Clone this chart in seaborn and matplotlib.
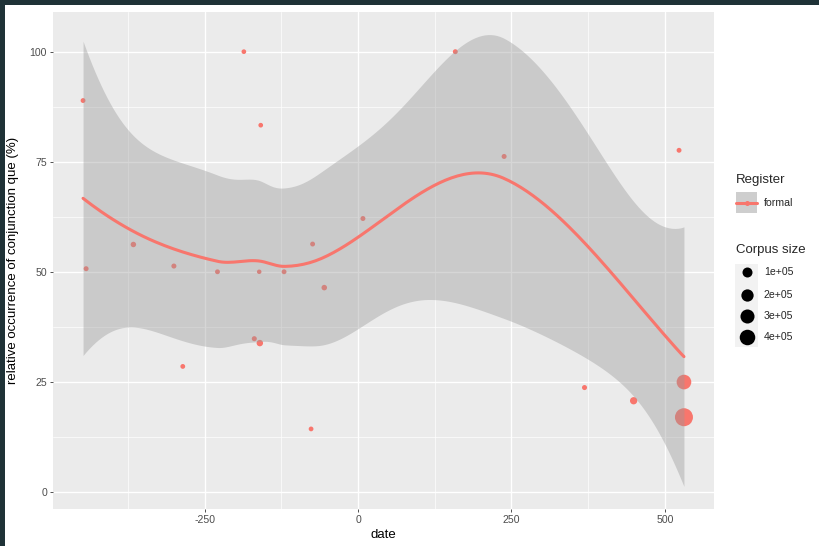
import numpy as np
import pandas as pd
import matplotlib
matplotlib.use("Agg")
import matplotlib.pyplot as plt
from matplotlib.patches import Rectangle
from matplotlib.lines import Line2D
import seaborn as sns

# ---- data -----------------------------------------------------------------
dates = [-448, -443, -366, -300, -285.5, -229, -186, -169, -160, -158.5, -161,
         -120.5, -74, -76.5, -55, 8, 158.5, 238, 369, 449, 523, 531, 531]
que_pct = [88.9, 50.7, 56.2, 51.3, 28.5, 50.0, 100.0, 34.8, 33.8, 83.3, 50.0,
           50.0, 56.3, 14.3, 46.4, 62.1, 100.0, 76.2, 23.7, 20.7, 77.6, 24.95, 16.96]
corpus = [900, 1200, 3500, 1500, 800, 900, 600, 1500, 13000, 600, 500,
          900, 1000, 700, 4000, 1200, 1100, 1300, 1500, 26000, 1000, 340000, 600000]
register = ["formal"] * len(dates)

size_breaks = [100000, 200000, 300000, 400000]
size_labels = ["1e+05", "2e+05", "3e+05", "4e+05"]
x_breaks = [-250, 0, 250, 500]
y_breaks = [0, 25, 50, 75, 100]

df = pd.DataFrame({"date": dates, "que": que_pct, "corpus": corpus,
                   "register": register})

RED = "#F8766D"
PANEL = "#EBEBEB"
W, H = 819, 546


# ---- size scale: diameter grows with sqrt of corpus size --------------------
cmin, cmax = min(corpus), max(corpus)


def diam_px(c):
    r = (c - cmin) / (cmax - cmin)
    return 4.5 + 13.5 * np.sqrt(max(r, 0.0))


def marker_area(c):
    return (diam_px(c) * 0.72) ** 2


# ---- loess: local quadratic fits at kd-tree vertices, cubic interpolation ---
def local_rows(x, x0, span=0.75, degree=2):
    """Operator rows giving the local value and slope at x0."""
    q = int(np.floor(len(x) * span))
    d = np.abs(x - x0)
    h = np.sort(d)[q - 1]
    u = d / h
    w = np.where(u < 0.999, np.where(u > 0.001, (1 - u ** 3) ** 3, 1.0), 0.0)
    X = np.vander(x - x0, degree + 1, increasing=True)
    XtW = X.T * w
    B = np.linalg.solve(XtW @ X, XtW)
    return B[0], B[1]


def kd_vertices(x, span=0.75, cell=0.2):
    xs = np.sort(x)
    n = len(xs)
    fc = int(np.floor(n * span * cell))
    mu = 0.005 * (xs[-1] - xs[0])
    verts = [xs[0] - mu, xs[-1] + mu]

    def split(lo, hi):  # 1-based inclusive indices
        if hi - lo + 1 <= fc:
            return
        m = (lo + hi) // 2
        while m < hi and xs[m - 1] == xs[m]:
            m += 1
        verts.append(xs[m - 1])
        split(lo, m)
        split(m + 1, hi)

    split(1, n)
    return np.array(sorted(set(verts)))


def loess_operator(x, x_eval, span=0.75):
    verts = kd_vertices(x, span)
    V0, V1 = zip(*[local_rows(x, v, span) for v in verts])
    V0, V1 = np.array(V0), np.array(V1)
    rows = []
    for xe in x_eval:
        k = int(np.clip(np.searchsorted(verts, xe) - 1, 0, len(verts) - 2))
        a, b = verts[k], verts[k + 1]
        L = b - a
        t = (xe - a) / L
        h00 = (1 - t) ** 2 * (1 + 2 * t)
        h01 = t ** 2 * (3 - 2 * t)
        h10 = t * (1 - t) ** 2
        h11 = -t ** 2 * (1 - t)
        rows.append(h00 * V0[k] + h01 * V0[k + 1]
                    + L * (h10 * V1[k] + h11 * V1[k + 1]))
    return np.array(rows)


def t_quantile(df_, z=1.959964):
    g1 = (z ** 3 + z) / 4
    g2 = (5 * z ** 5 + 16 * z ** 3 + 3 * z) / 96
    g3 = (3 * z ** 7 + 19 * z ** 5 + 17 * z ** 3 - 15 * z) / 384
    return z + g1 / df_ + g2 / df_ ** 2 + g3 / df_ ** 3


xd = np.asarray(dates, float)
yd = np.asarray(que_pct, float)
Lh = loess_operator(xd, xd)
IL = np.eye(len(xd)) - Lh
M = IL.T @ IL
one_delta = np.trace(M)
two_delta = np.trace(M @ M)
resid = yd - Lh @ yd
sigma = np.sqrt(np.sum(resid ** 2) / one_delta)
tq = t_quantile(one_delta ** 2 / two_delta)

xgrid = np.linspace(xd.min(), xd.max(), 200)
Lg = loess_operator(xd, xgrid)
fit = Lg @ yd
se = sigma * np.sqrt(np.sum(Lg ** 2, axis=1))
lo, hi = fit - tq * se, fit + tq * se
smooth = pd.DataFrame({"date": xgrid, "fit": fit, "lo": lo, "hi": hi})

# ---- figure ----------------------------------------------------------------
sns.set_style("darkgrid", {"axes.facecolor": PANEL, "grid.color": "white"})
plt.rcParams["font.family"] = ["Liberation Sans", "DejaVu Sans"]

fig = plt.figure(figsize=(W / 100, H / 100), dpi=100)
fig.patch.set_facecolor("white")
ax = fig.add_axes([53 / W, 1 - 509 / H, (714 - 53) / W, (509 - 12) / H])
ax.set_facecolor(PANEL)

sns.scatterplot(data=df, x="date", y="que", size="corpus",
                sizes={c: marker_area(c) for c in set(corpus)},
                color=RED, linewidth=0, legend=False, ax=ax, zorder=2)
ax.fill_between(smooth["date"], smooth["lo"], smooth["hi"],
                color="#999999", alpha=0.4, linewidth=0, zorder=3)
sns.lineplot(data=smooth, x="date", y="fit", color=RED, linewidth=2.2,
             ax=ax, zorder=4)

# limits with 5% expansion over everything drawn
xr = xd.max() - xd.min()
ax.set_xlim(xd.min() - 0.05 * xr, xd.max() + 0.05 * xr)
ymin_all = min(yd.min(), lo.min())
ymax_all = max(yd.max(), hi.max())
yr = ymax_all - ymin_all
ax.set_ylim(ymin_all - 0.05 * yr, ymax_all + 0.05 * yr)

ax.set_xticks(x_breaks)
ax.set_xticklabels([str(v) for v in x_breaks])
ax.set_yticks(y_breaks)
ax.set_yticklabels([str(v) for v in y_breaks])
ax.set_xticks([-375, -125, 125, 375], minor=True)
ax.set_yticks([12.5, 37.5, 62.5, 87.5], minor=True)
ax.grid(which="major", color="white", linewidth=1.0)
ax.grid(which="minor", color="white", linewidth=0.5)
ax.set_axisbelow(True)
ax.tick_params(which="major", length=2.4, width=0.6, color="#333333",
               labelcolor="#4D4D4D", labelsize=7.6, pad=1.9,
               bottom=True, left=True)
ax.tick_params(which="minor", length=0, bottom=False, left=False)
for s in ax.spines.values():
    s.set_visible(False)
ax.set_xlabel("")
ax.set_ylabel("")


def fx(px):
    return px / W


def fy(py):
    return 1 - py / H


fig.text(fx(383.5), fy(535), "date", ha="center", va="center", fontsize=9.5,
         color="black")
fig.text(fx(13), fy(260.5), "relative occurrence of conjunction que (%)",
         ha="center", va="center", rotation=90, fontsize=9.5, color="black")

# ---- legends ---------------------------------------------------------------
fig.text(fx(736), fy(180), "Register", ha="left", va="center", fontsize=9.5)
fig.patches.append(Rectangle((fx(736), fy(213)), fx(21), 21 / H,
                             transform=fig.transFigure, facecolor="#F2F2F2",
                             edgecolor="none"))
fig.patches.append(Rectangle((fx(736), fy(213)), fx(21), 21 / H,
                             transform=fig.transFigure, facecolor="#999999",
                             alpha=0.4, edgecolor="none"))
fig.lines.append(Line2D([fx(736), fx(757)], [fy(202.5), fy(202.5)],
                        transform=fig.transFigure, color=RED, linewidth=2.2))
fig.lines.append(Line2D([fx(746.5)], [fy(202.5)], transform=fig.transFigure,
                        marker="o", markersize=3.6, color=RED,
                        markeredgewidth=0))
fig.text(fx(764), fy(203), register[0], ha="left", va="center", fontsize=7.6)

fig.text(fx(736), fy(250), "Corpus size", ha="left", va="center", fontsize=9.5)
fig.patches.append(Rectangle((fx(735), fy(347)), fx(23), (347 - 264) / H,
                             transform=fig.transFigure, facecolor="#F2F2F2",
                             edgecolor="none"))
key_y = [272.3, 294.5, 316, 336.7]
for b, lab, ky in zip(size_breaks, size_labels, key_y):
    fig.lines.append(Line2D([fx(746.5)], [fy(ky)], transform=fig.transFigure,
                            marker="o", markersize=diam_px(b) * 0.72,
                            color="black", markeredgewidth=0))
    fig.text(fx(764), fy(ky), lab, ha="left", va="center", fontsize=7.6)

# dark window edge along the top and left
fig.patches.append(Rectangle((0, fy(5)), 1, 5 / H, transform=fig.transFigure,
                             facecolor="#1F3237", edgecolor="none", zorder=10))
fig.patches.append(Rectangle((0, 0), fx(5), 1, transform=fig.transFigure,
                             facecolor="#1F3237", edgecolor="none", zorder=10))

fig.savefig("out.png", dpi=100)
